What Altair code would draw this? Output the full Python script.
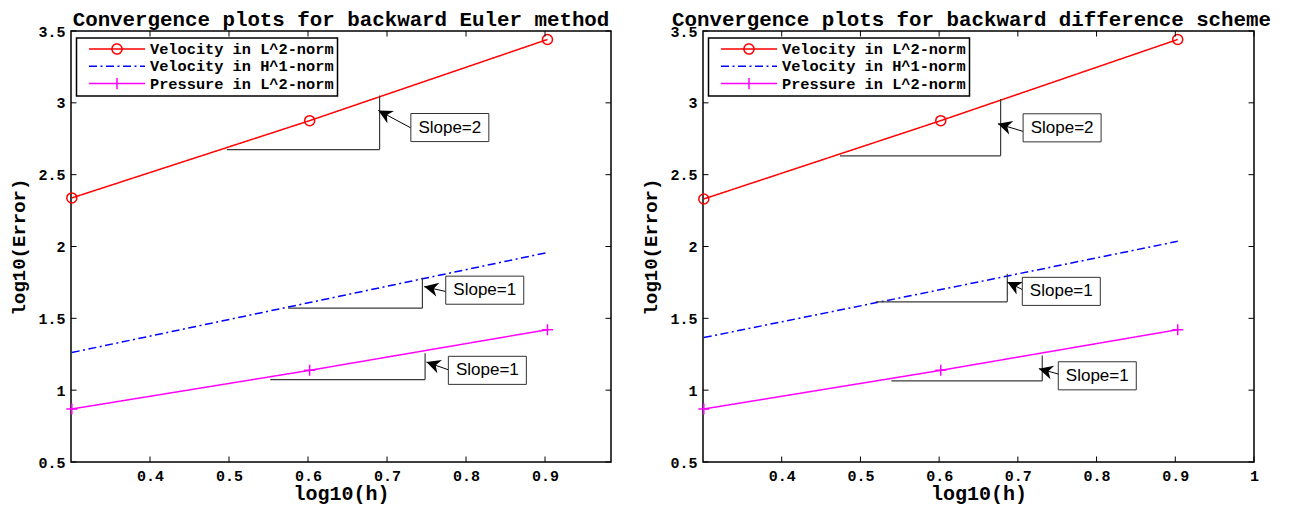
import math
import altair as alt
import pandas as pd

# ---------------- data ----------------
log_h = [0.30103, 0.60206, 0.90309]
series_names = ["Velocity in L^2-norm", "Velocity in H^1-norm", "Pressure in L^2-norm"]
series_colors = ["#ff0000", "#0000ff", "#ff00ff"]
series_dash = [[1, 0], [8, 3.5, 2, 3.5], [1, 0]]

euler_vel_L2 = [2.338, 2.876, 3.441]
euler_vel_H1 = [1.262, 1.610, 1.958]
euler_pres_L2 = [0.869, 1.138, 1.421]

bdf_vel_L2 = [2.331, 2.876, 3.441]
bdf_vel_H1 = [1.366, 1.700, 2.036]
bdf_pres_L2 = [0.869, 1.138, 1.421]

titles = ["Convergence plots for backward Euler method",
          "Convergence plots for backward difference scheme"]
title_dx = [0, -7]
x_domains = [[0.3, 0.9835], [0.3, 1.0]]
y_domain = [0.5, 3.5]
x_ticks = [[0.4, 0.5, 0.6, 0.7, 0.8, 0.9], [0.4, 0.5, 0.6, 0.7, 0.8, 0.9, 1.0]]
y_ticks = [0.5, 1.0, 1.5, 2.0, 2.5, 3.0, 3.5]

slope_text = ["Slope=2", "Slope=1", "Slope=1"]

# slope triangles / arrows / labels (data units)
euler_tri_x0 = [0.4973, 0.5747, 0.5523]
euler_tri_x1 = [0.6906, 0.7448, 0.7482]
euler_tri_y0 = [2.6747, 1.5715, 1.0738]
euler_tri_y1 = [3.0507, 1.7830, 1.2577]
euler_tip_x = [0.6890, 0.7470, 0.7499]
euler_tip_y = [2.9470, 1.7208, 1.1955]
euler_tail_x = [0.7321, 0.7804, 0.7893]
euler_tail_y = [2.8198, 1.6793, 1.1194]
euler_lab_x = [0.7795, 0.8237, 0.8270]
euler_lab_y = [2.8280, 1.6959, 1.1380]

bdf_tri_x0 = [0.4740, 0.5193, 0.5393]
bdf_tri_x1 = [0.6781, 0.6866, 0.7310]
bdf_tri_y0 = [2.6311, 1.6150, 1.0641]
bdf_tri_y1 = [3.0272, 1.8106, 1.2417]
bdf_tip_x = [0.6746, 0.6866, 0.7267]
bdf_tip_y = [2.8544, 1.7533, 1.1498]
bdf_tail_x = [0.7162, 0.7171, 0.7648]
bdf_tail_y = [2.7853, 1.6683, 1.0918]
bdf_lab_x = [0.7562, 0.7552, 0.8009]
bdf_lab_y = [2.8260, 1.6876, 1.1000]

# ---------------- style ----------------
FONT_MONO = "Liberation Mono"
FONT_SANS = "Liberation Sans"
PLOT_H = 431
PANEL_W = [540, 551]
TICK = 5.5
PX_Y = PLOT_H / (y_domain[1] - y_domain[0])

PLUS_PATH = "M-1,0L1,0M0,-1L0,1"
HEAD_PATH = "M0,0L0.5,1L0,0.7L-0.5,1Z"
BOX_PATH = "M-1,-0.36L1,-0.36L1,0.36L-1,0.36Z"
BOX_W = 78

# legend symbols: line with marker in the middle
LEG_RED = "M-1,0L1,0M0.18,0A0.18,0.18,0,1,1,-0.18,0A0.18,0.18,0,1,1,0.18,0"
LEG_BLUE = "M-1,0L1,0"
LEG_MAG = "M-1,0L1,0M0,-0.2L0,0.2"
legend_shapes = [LEG_RED, LEG_BLUE, LEG_MAG]


def make_panel(idx, vel_L2, vel_H1, pres_L2, tri_x0, tri_x1, tri_y0, tri_y1,
               tip_x, tip_y, tail_x, tail_y, lab_x, lab_y):
    W = PANEL_W[idx]
    dom = x_domains[idx]
    px_x = W / (dom[1] - dom[0])
    xs = alt.Scale(domain=dom, nice=False, zero=False)
    ys = alt.Scale(domain=y_domain, nice=False, zero=False)
    x_axis = alt.Axis(values=x_ticks[idx], title="log10(h)", format="~g", labelFlush=False)
    y_axis = alt.Axis(values=y_ticks, title="log10(Error)", format="~g", labelFlush=False)

    def X(f):
        return alt.X(f, scale=xs, axis=x_axis)

    def Y(f):
        return alt.Y(f, scale=ys, axis=y_axis)

    rows = []
    for name, vals in zip(series_names, [vel_L2, vel_H1, pres_L2]):
        for xv, yv in zip(log_h, vals):
            rows.append({"x": xv, "y": yv, "series": name})
    df = pd.DataFrame(rows)

    color_scale = alt.Scale(domain=series_names, range=series_colors)
    dash_scale = alt.Scale(domain=series_names, range=series_dash)
    shape_scale = alt.Scale(domain=series_names, range=legend_shapes)
    legend = alt.Legend(
        title=None, orient="none", legendX=5.5, legendY=7,
        fillColor="white", strokeColor="black", padding=3.5,
        labelFont=FONT_MONO, labelFontWeight="bold", labelFontSize=15.3,
        labelColor="black", labelLimit=400,
        symbolSize=3136, symbolStrokeWidth=1.5, symbolOffset=8, symbolOpacity=1,
        labelOffset=4, rowPadding=1.3, clipHeight=15,
    )
    color = alt.Color("series:N", scale=color_scale, legend=legend)
    dash = alt.StrokeDash("series:N", scale=dash_scale, legend=legend)

    lines = alt.Chart(df).mark_line(strokeWidth=1.5).encode(
        x=X("x:Q"), y=Y("y:Q"), color=color, strokeDash=dash)
    circles = alt.Chart(df).transform_filter(
        alt.FieldEqualPredicate(field="series", equal=series_names[0])
    ).mark_point(shape="circle", size=100, filled=False, strokeWidth=1.5, opacity=1).encode(
        x=X("x:Q"), y=Y("y:Q"), color=color)
    pluses = alt.Chart(df).transform_filter(
        alt.FieldEqualPredicate(field="series", equal=series_names[2])
    ).mark_point(shape=PLUS_PATH, size=121, filled=False, strokeWidth=1.5, opacity=1).encode(
        x=X("x:Q"), y=Y("y:Q"), color=color)

    # legend-only layer (no rows drawn)
    leg = alt.Chart(df).transform_filter("false").mark_point(
        filled=False, strokeWidth=1.5, opacity=1).encode(
        x=X("x:Q"), y=Y("y:Q"), color=color, strokeDash=dash,
        shape=alt.Shape("series:N", scale=shape_scale, legend=legend),
    )

    xt_df = pd.DataFrame({"x": x_ticks[idx]})
    yt_df = pd.DataFrame({"y": y_ticks})
    tk = dict(color="black", strokeWidth=1)
    t_bottom = alt.Chart(xt_df).mark_rule(**tk).encode(
        x=X("x:Q"), y=alt.value(PLOT_H), y2=alt.value(PLOT_H - TICK))
    t_top = alt.Chart(xt_df).mark_rule(**tk).encode(
        x=X("x:Q"), y=alt.value(0), y2=alt.value(TICK))
    t_left = alt.Chart(yt_df).mark_rule(**tk).encode(
        y=Y("y:Q"), x=alt.value(0), x2=alt.value(TICK))
    t_right = alt.Chart(yt_df).mark_rule(**tk).encode(
        y=Y("y:Q"), x=alt.value(W), x2=alt.value(W - TICK))

    tri = pd.DataFrame({"x": tri_x0, "x1": tri_x1, "y": tri_y0, "y1": tri_y1})
    tri_h = alt.Chart(tri).mark_rule(color="#3a3a3a", strokeWidth=1.2).encode(
        x=X("x:Q"), x2="x1:Q", y=Y("y:Q"))
    tri_v = alt.Chart(tri).mark_rule(color="#3a3a3a", strokeWidth=1.2).encode(
        x=X("x1:Q"), y=Y("y:Q"), y2="y1:Q")

    angles = [math.degrees(math.atan2((a - c) * px_x, (b - d) * PX_Y)) % 360
              for a, b, c, d in zip(tip_x, tip_y, tail_x, tail_y)]
    arr = pd.DataFrame({"x": tip_x, "y": tip_y, "sx": tail_x, "sy": tail_y, "ang": angles})
    shaft = alt.Chart(arr).mark_rule(color="black", strokeWidth=1).encode(
        x=X("sx:Q"), y=Y("sy:Q"), x2="x:Q", y2="y:Q")
    head = alt.Chart(arr).mark_point(shape=HEAD_PATH, size=784, filled=True,
                                     color="black", opacity=1, strokeWidth=0).encode(
        x=X("x:Q"), y=Y("y:Q"), angle=alt.Angle("ang:Q", scale=None))

    lab = pd.DataFrame({"x": lab_x, "y": lab_y, "text": slope_text})
    box = alt.Chart(lab).mark_point(shape=BOX_PATH, size=BOX_W ** 2, filled=True,
                                    fill="white", stroke="#333333", strokeWidth=1,
                                    opacity=1).encode(x=X("x:Q"), y=Y("y:Q"))
    txt = alt.Chart(lab).mark_text(font=FONT_SANS, fontSize=17, color="black",
                                   align="center", baseline="middle").encode(
        x=X("x:Q"), y=Y("y:Q"), text="text:N")

    return alt.layer(lines, circles, pluses, leg, t_bottom, t_top, t_left, t_right,
                     tri_h, tri_v, shaft, head, box, txt).properties(
        width=W, height=PLOT_H,
        title=alt.Title(titles[idx], font=FONT_MONO, fontSize=20.8, fontWeight="bold",
                        color="black", anchor="middle", offset=-27, baseline="bottom",
                        dx=title_dx[idx]))


left = make_panel(0, euler_vel_L2, euler_vel_H1, euler_pres_L2,
                  euler_tri_x0, euler_tri_x1, euler_tri_y0, euler_tri_y1,
                  euler_tip_x, euler_tip_y, euler_tail_x, euler_tail_y,
                  euler_lab_x, euler_lab_y)
right = make_panel(1, bdf_vel_L2, bdf_vel_H1, bdf_pres_L2,
                   bdf_tri_x0, bdf_tri_x1, bdf_tri_y0, bdf_tri_y1,
                   bdf_tip_x, bdf_tip_y, bdf_tail_x, bdf_tail_y,
                   bdf_lab_x, bdf_lab_y)

chart = alt.hconcat(left, right, spacing=27).resolve_scale(
    x="independent", y="independent", color="independent",
    strokeDash="independent", shape="independent"
).properties(
    padding={"top": 0, "left": 0, "right": 0, "bottom": 0}
).configure_view(
    stroke="black", strokeWidth=1.5
).configure_legend(
    strokeWidth=1.5
).configure_axis(
    domain=False, ticks=False, tickSize=0, grid=False,
    labelFont=FONT_MONO, labelFontWeight="bold", labelFontSize=15, labelColor="black",
    titleFont=FONT_MONO, titleFontWeight="bold", titleColor="black",
).configure_axisX(
    labelPadding=6, minExtent=19, maxExtent=19, titlePadding=2, titleFontSize=20,
).configure_axisY(
    labelPadding=6, minExtent=33, maxExtent=33, titlePadding=9.5, titleFontSize=19,
)

chart.save("out.html", embed_options={"renderer": "svg", "actions": False})
